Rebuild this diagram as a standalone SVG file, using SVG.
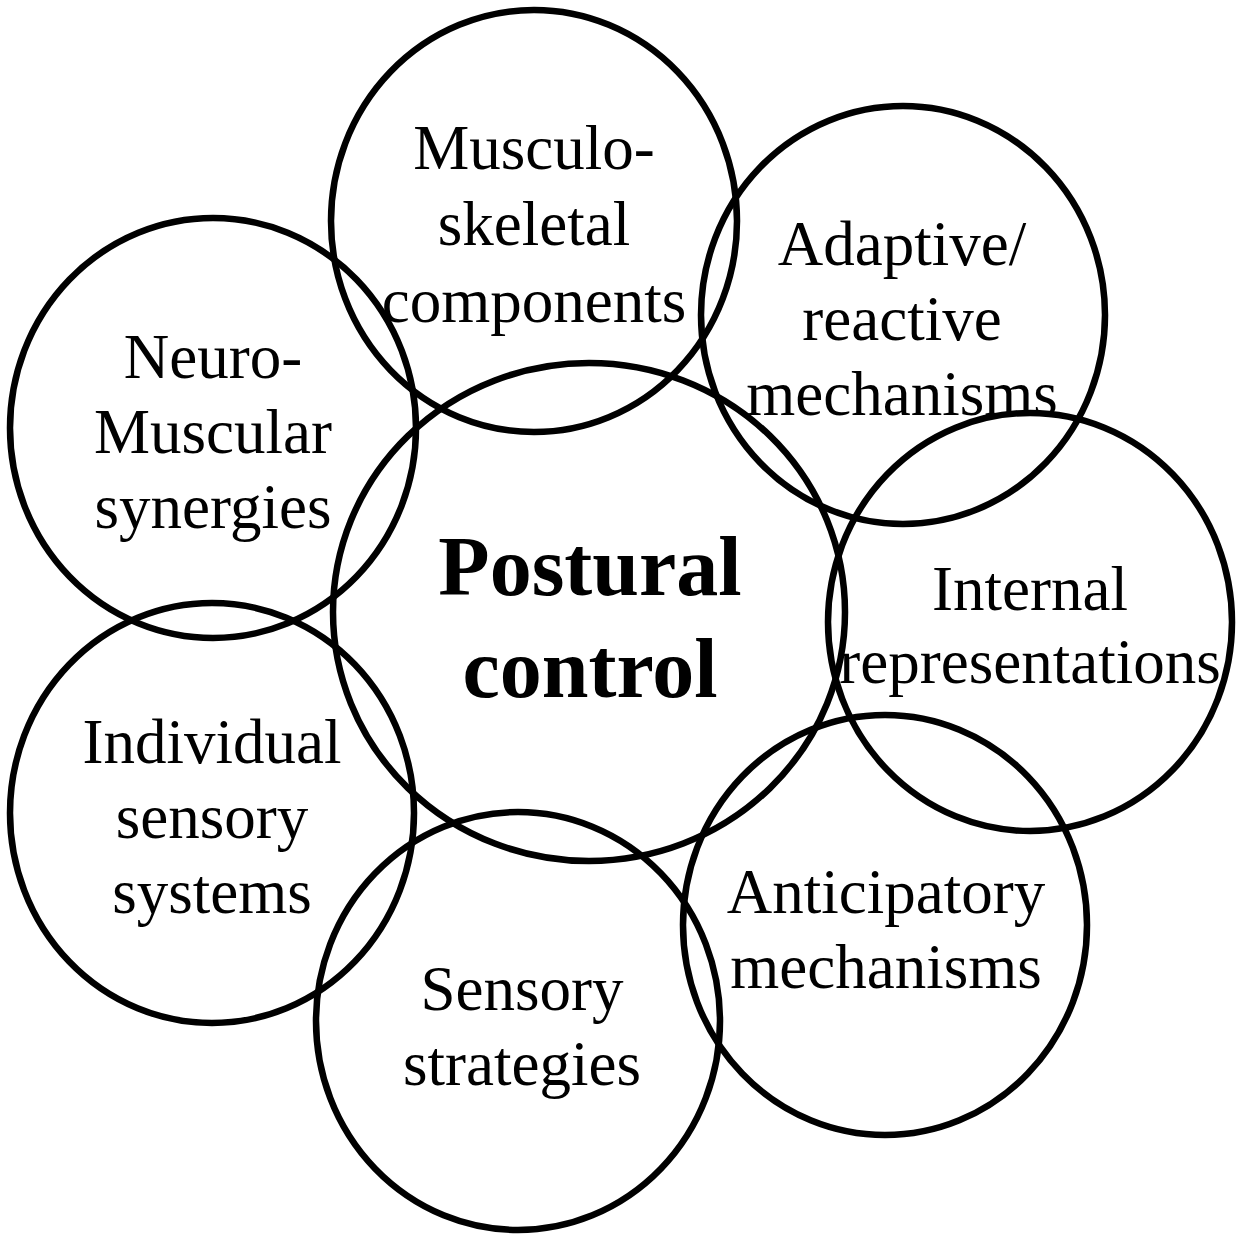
<svg xmlns="http://www.w3.org/2000/svg" width="1238" height="1235" viewBox="0 0 1238 1235">
<style>
.c{fill:none;stroke:#000;stroke-width:6.5}
.t{font-family:"Liberation Serif","Times New Roman",serif;font-size:63px;fill:#000;text-anchor:middle}
.b{font-family:"Liberation Serif","Times New Roman",serif;font-size:84px;font-weight:bold;fill:#000;text-anchor:middle}
</style>
<rect width="1238" height="1235" fill="#fff"/>
<g id="center"><ellipse class="c" cx="589" cy="612" rx="256" ry="249"/>
<text class="b" x="590" y="595">Postural</text><text class="b" x="590" y="697">control</text></g>
<g id="musculo"><ellipse class="c" cx="534" cy="221" rx="203" ry="211"/>
<text class="t" x="534" y="169">Musculo-</text><text class="t" x="534" y="245">skeletal</text><text class="t" x="534" y="322">components</text></g>
<g id="adaptive"><ellipse class="c" cx="903" cy="315" rx="202" ry="209"/>
<text class="t" x="902" y="265">Adaptive/</text><text class="t" x="902" y="340">reactive</text><text class="t" x="902" y="415">mechanisms</text></g>
<g id="neuro"><ellipse class="c" cx="213" cy="428" rx="203" ry="210"/>
<text class="t" x="213" y="378">Neuro-</text><text class="t" x="213" y="453">Muscular</text><text class="t" x="213" y="528">synergies</text></g>
<g id="internal"><ellipse class="c" cx="1030" cy="622" rx="202" ry="209"/>
<text class="t" x="1030" y="610">Internal</text><text class="t" x="1030" y="683">representations</text></g>
<g id="individual"><ellipse class="c" cx="212" cy="813" rx="202" ry="210"/>
<text class="t" x="212" y="763">Individual</text><text class="t" x="212" y="838">sensory</text><text class="t" x="212" y="913">systems</text></g>
<g id="anticipatory"><ellipse class="c" cx="885" cy="925" rx="202" ry="210"/>
<text class="t" x="886" y="913">Anticipatory</text><text class="t" x="886" y="988">mechanisms</text></g>
<g id="strategies"><ellipse class="c" cx="518" cy="1021" rx="202" ry="209"/>
<text class="t" x="522" y="1010">Sensory</text><text class="t" x="522" y="1085">strategies</text></g>
<g id="connectors"></g>
</svg>
